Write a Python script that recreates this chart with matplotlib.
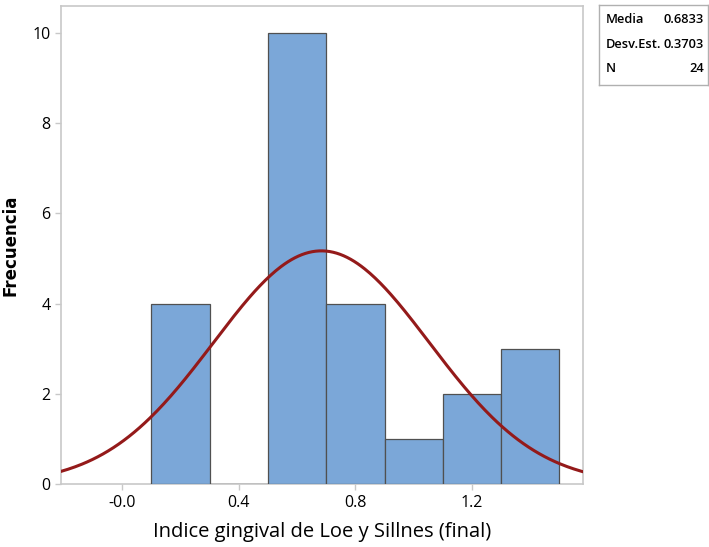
import numpy as np
import matplotlib.pyplot as plt

# histogram data
bin_edges = [0.1, 0.3, 0.5, 0.7, 0.9, 1.1, 1.3, 1.5]
counts = [4, 0, 10, 4, 1, 2, 3]

media = 0.6833
desv = 0.3703
n_obs = 24

x_ticks = [0.0, 0.4, 0.8, 1.2]
x_tick_labels = ['-0.0', '0.4', '0.8', '1.2']
y_ticks = [0, 2, 4, 6, 8, 10]

plt.rcParams['font.family'] = ['Open Sans', 'DejaVu Sans']

fig = plt.figure(figsize=(7.09, 5.47), dpi=100)
ax = fig.add_axes([0.086, 0.115, 0.736, 0.874])

widths = np.diff(bin_edges)
ax.bar(bin_edges[:-1], counts, width=widths, align='edge',
       color='#7ba7d8', edgecolor='#505050', linewidth=0.9, zorder=3)

# fitted normal curve scaled to counts
bw = widths[0]
xs = np.linspace(-0.21, 1.58, 300)
ys = n_obs * bw / (desv * np.sqrt(2 * np.pi)) * np.exp(-0.5 * ((xs - media) / desv) ** 2)
ax.plot(xs, ys, color='#941a1a', linewidth=2.2, zorder=4)

ax.set_xlim(-0.21, 1.58)
ax.set_ylim(0, 10.6)
ax.set_xticks(x_ticks)
ax.set_xticklabels(x_tick_labels)
ax.set_yticks(y_ticks)

for sp in ax.spines.values():
    sp.set_color('#c8c8c8')
    sp.set_linewidth(1.2)
ax.tick_params(axis='both', colors='#c8c8c8', labelcolor='black',
               labelsize=11.5, length=4, width=1)

ax.set_xlabel('Indice gingival de Loe y Sillnes (final)', fontsize=14.5, labelpad=8)
ax.set_ylabel('Frecuencia', fontsize=12, fontweight='bold',
              family=['DejaVu Sans'])
ax.yaxis.set_label_coords(-0.08, 0.5)

# stats box
box_ax = fig.add_axes([599 / 709, 1 - 85 / 547, 109 / 709, 80 / 547])
box_ax.set_xticks([])
box_ax.set_yticks([])
for sp in box_ax.spines.values():
    sp.set_color('#b0b0b0')
    sp.set_linewidth(1)
rows = [('Media', '%.4f' % media), ('Desv.Est.', '%.4f' % desv), ('N', str(n_obs))]
for i, (k, v) in enumerate(rows):
    yy = 0.82 - i * 0.31
    box_ax.text(0.06, yy, k, fontsize=9.3, fontweight='semibold', va='center',
                ha='left', transform=box_ax.transAxes)
    box_ax.text(0.96, yy, v, fontsize=9.3, fontweight='semibold', va='center',
                ha='right', transform=box_ax.transAxes)

fig.savefig('out.png', dpi=100)
